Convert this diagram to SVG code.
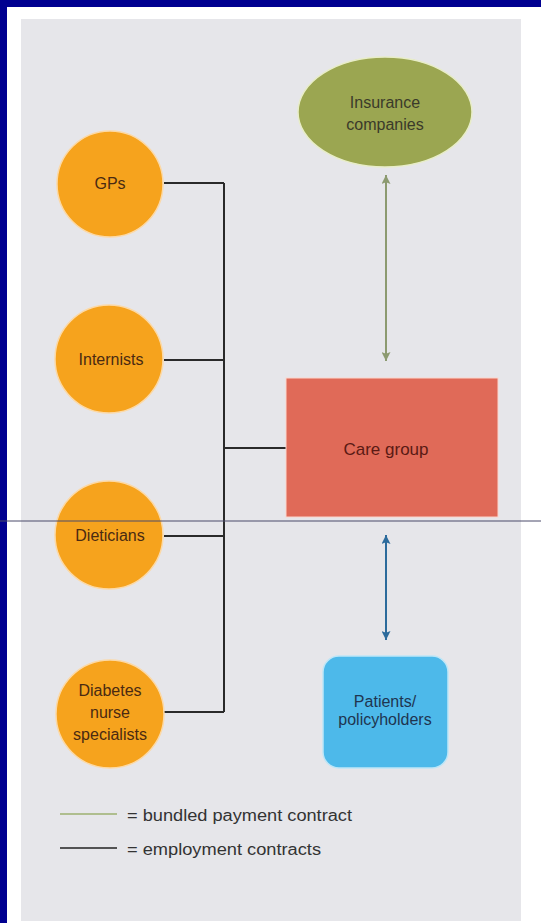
<svg xmlns="http://www.w3.org/2000/svg" width="541" height="923" viewBox="0 0 541 923">
<style>
text{font-family:"Liberation Sans",Arial,sans-serif;text-anchor:middle;dominant-baseline:central}
.circ{fill:#F6A31D;stroke:#FCD9A6;stroke-width:1.5}
.ct{fill:#4A2A12;font-size:16px}
.emp{stroke:#2A2A2A;stroke-width:2;fill:none}
.lg{fill:#333;font-size:16px;text-anchor:start}
</style>
<defs>
<marker id="ag" viewBox="0 0 10 10" refX="10" refY="5" markerWidth="13" markerHeight="9" orient="auto-start-reverse" markerUnits="userSpaceOnUse"><path d="M0,0 L10,5 L0,10 L2,5 z" fill="#8C9A70"/></marker>
<marker id="ab" viewBox="0 0 10 10" refX="10" refY="5" markerWidth="13" markerHeight="9" orient="auto-start-reverse" markerUnits="userSpaceOnUse"><path d="M0,0 L10,5 L0,10 L2,5 z" fill="#2C6B9C"/></marker>
</defs>
<rect width="541" height="923" fill="#000090"/>
<rect x="7" y="7" width="534" height="916" fill="#FFFFFF"/>
<rect x="21" y="19" width="500" height="902" fill="#E6E6EA"/>

<g id="connectors">
<path class="emp" d="M164,183 H224 M164,360 H224 M164,536 H224 M164,712 H224 M224,183 V712 M224,448 H286"/>
<line x1="386" y1="175" x2="386" y2="361" stroke="#8C9A70" stroke-width="2" marker-start="url(#ag)" marker-end="url(#ag)"/>
<line x1="386" y1="535" x2="386" y2="640" stroke="#2C6B9C" stroke-width="2" marker-start="url(#ab)" marker-end="url(#ab)"/>
</g>

<g id="insurance">
<ellipse cx="385" cy="112" rx="87" ry="55" fill="#9BA651" stroke="#E8EDC8" stroke-width="1.5"/>
<text x="385" y="102" fill="#3A3A2A" font-size="16">Insurance</text>
<text x="385" y="124" fill="#3A3A2A" font-size="16">companies</text>
</g>

<g id="gps">
<circle class="circ" cx="110" cy="184" r="53"/>
<text class="ct" x="110" y="183">GPs</text>
</g>
<g id="internists">
<circle class="circ" cx="109" cy="359" r="54"/>
<text class="ct" x="111" y="359">Internists</text>
</g>
<g id="dieticians">
<circle class="circ" cx="109" cy="535" r="54"/>
<text class="ct" x="110" y="535">Dieticians</text>
</g>
<g id="diabetes">
<circle class="circ" cx="110" cy="714" r="54"/>
<text class="ct" x="110" y="690">Diabetes</text>
<text class="ct" x="110" y="712">nurse</text>
<text class="ct" x="110" y="734">specialists</text>
</g>

<g id="care-group">
<rect x="286" y="378" width="212" height="139" fill="#E06A58" stroke="#FBD5CC" stroke-width="1"/>
<text x="386" y="449" fill="#5A1A14" font-size="17">Care group</text>
</g>

<g id="patients">
<rect x="323" y="656" width="125" height="112" rx="16" fill="#4DB9EA" stroke="#BEE6F7" stroke-width="1.5"/>
<text x="385" y="701" fill="#1F3550" font-size="16">Patients/</text>
<text x="385" y="719" fill="#1F3550" font-size="16">policyholders</text>
</g>

<line x1="0" y1="521" x2="541" y2="521" stroke="#4A4A6A" stroke-width="1"/>

<g id="legend">
<line x1="60" y1="814" x2="117" y2="814" stroke="#9DB070" stroke-width="1.5"/>
<text class="lg" x="127" y="815" textLength="225" lengthAdjust="spacingAndGlyphs">= bundled payment contract</text>
<line x1="60" y1="848" x2="117" y2="848" stroke="#222" stroke-width="1.5"/>
<text class="lg" x="127" y="849" textLength="194" lengthAdjust="spacingAndGlyphs">= employment contracts</text>
</g>
</svg>
